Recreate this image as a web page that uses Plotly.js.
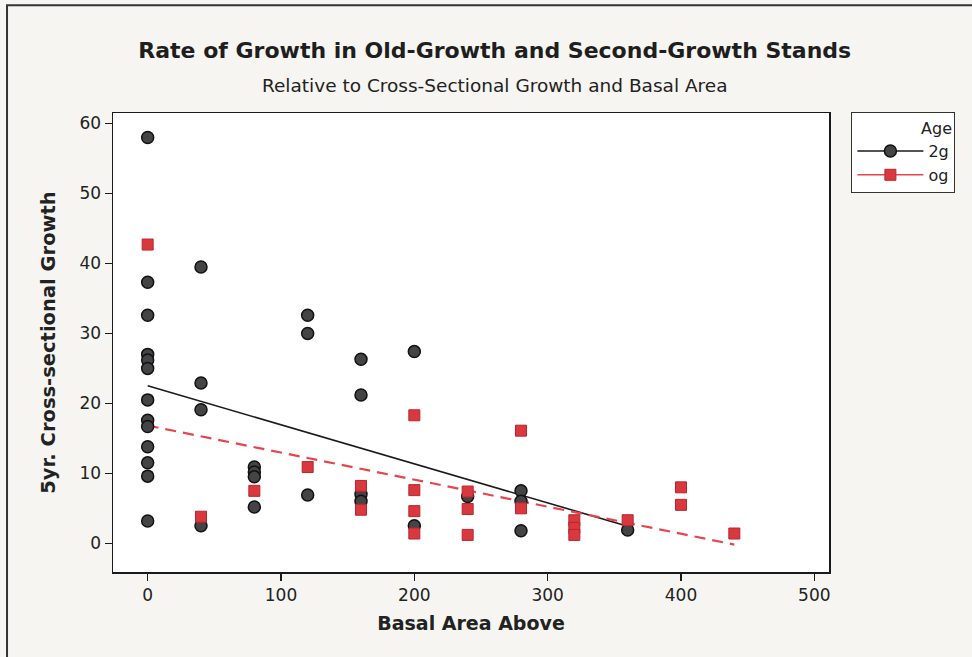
<!DOCTYPE html>
<html>
<head>
<meta charset="utf-8">
<script src="https://cdn.plot.ly/plotly-3.0.1.min.js"></script>
<style>
  html, body { margin: 0; padding: 0; background: #f6f5f1; }
  #chart { width: 972px; height: 657px; }
</style>
</head>
<body>
<div id="chart"></div>
<script>
// ---- Data ----
const basal2g = [0,0,0,0,0,0,0,0,0,0,0,0,0,
                 40,40,40,40,
                 80,80,80,80,
                 120,120,120,
                 160,160,160,160,
                 200,200,
                 240,
                 280,280,280,
                 360];
const growth2g = [58.0,37.3,32.6,27.0,26.2,25.0,20.5,17.6,16.7,13.8,11.5,9.6,3.2,
                  39.5,22.9,19.1,2.5,
                  10.9,10.2,9.5,5.2,
                  32.6,30.0,6.9,
                  26.3,21.2,7.0,6.0,
                  27.4,2.5,
                  6.7,
                  7.5,6.0,1.8,
                  1.9];
const basalOg = [0,40,80,120,160,160,200,200,200,200,240,240,240,280,280,320,320,320,360,400,400,440];
const growthOg = [42.7,3.8,7.5,10.9,8.2,4.8,18.3,7.6,4.6,1.4,7.4,4.9,1.2,16.1,5.0,3.3,2.2,1.2,3.3,8.0,5.5,1.4];

const groupNames = ['2g', 'og'];
const xTicks = [0, 100, 200, 300, 400, 500];
const yTicks = [0, 10, 20, 30, 40, 50, 60];

// least-squares fit line over the data's x range
function fitLine(xs, ys) {
  const n = xs.length;
  const mx = xs.reduce((a, b) => a + b, 0) / n;
  const my = ys.reduce((a, b) => a + b, 0) / n;
  let sxy = 0, sxx = 0;
  for (let i = 0; i < n; i++) { sxy += (xs[i] - mx) * (ys[i] - my); sxx += (xs[i] - mx) ** 2; }
  const b = sxy / sxx, a = my - b * mx;
  const x0 = Math.min(...xs), x1 = Math.max(...xs);
  return { x: [x0, x1], y: [a + b * x0, a + b * x1] };
}
const fit2g = fitLine(basal2g, growth2g);
const fitOg = fitLine(basalOg, growthOg);

const black = '#1a1a1a';
const circleFill = '#444446';
const red = '#d9383f';
const redLine = '#e6454d';

const traces = [
  { type: 'scatter', mode: 'lines', x: fit2g.x, y: fit2g.y, showlegend: false, hoverinfo: 'skip',
    line: { color: black, width: 1.6 } },
  { type: 'scatter', mode: 'lines', x: fitOg.x, y: fitOg.y, showlegend: false, hoverinfo: 'skip',
    line: { color: redLine, width: 2.2, dash: '11px,7px' } },
  { type: 'scatter', mode: 'markers', x: basal2g, y: growth2g, name: groupNames[0], showlegend: false,
    marker: { symbol: 'circle', size: 12, color: circleFill, line: { color: '#111', width: 1.5 } } },
  { type: 'scatter', mode: 'markers', x: basalOg, y: growthOg, name: groupNames[1], showlegend: false,
    marker: { symbol: 'square', size: 11, color: red, line: { color: '#b8262c', width: 1 } } },
  // legend entries (line + marker)
  { type: 'scatter', mode: 'lines+markers', x: [null], y: [null], name: groupNames[0],
    line: { color: black, width: 1.6 },
    marker: { symbol: 'circle', size: 12, color: circleFill, line: { color: '#111', width: 1.5 } } },
  { type: 'scatter', mode: 'lines+markers', x: [null], y: [null], name: groupNames[1],
    line: { color: redLine, width: 1.6 },
    marker: { symbol: 'square', size: 11, color: red, line: { color: '#b8262c', width: 1 } } }
];

const font = 'DejaVu Sans, Verdana, sans-serif';

const layout = {
  width: 972, height: 657,
  paper_bgcolor: '#f6f5f1',
  plot_bgcolor: '#ffffff',
  margin: { l: 113, r: 143, t: 113, b: 85, pad: 0 },
  font: { family: font, color: '#222', size: 17 },
  title: {
    text: 'Rate of Growth in Old-Growth and Second-Growth Stands',
    font: { family: font, size: 22, weight: 'bold', color: '#1e1e1e' },
    xref: 'container', x: 0.509, xanchor: 'center',
    yref: 'container', y: 0.912, yanchor: 'bottom',
    subtitle: {
      text: 'Relative to Cross-Sectional Growth and Basal Area',
      font: { family: font, size: 18.5, color: '#222' }
    }
  },
  xaxis: {
    range: [-26, 511],
    tickvals: xTicks, ticktext: xTicks.map(String),
    ticks: 'outside', ticklen: 7, tickwidth: 1.5, tickcolor: black,
    showline: true, mirror: true, linecolor: black, linewidth: 1.5,
    showgrid: false, zeroline: false,
    tickfont: { family: font, size: 17, color: '#222' },
    title: { text: 'Basal Area Above', standoff: 13,
             font: { family: font, size: 19, weight: 'bold', color: '#222' } }
  },
  yaxis: {
    range: [-4.1, 61.5],
    tickvals: yTicks, ticktext: yTicks.map(String),
    ticks: 'outside', ticklen: 7, tickwidth: 1.5, tickcolor: black,
    showline: true, mirror: true, linecolor: black, linewidth: 1.5,
    showgrid: false, zeroline: false,
    tickfont: { family: font, size: 17, color: '#222' },
    title: { text: '5yr. Cross-sectional Growth', standoff: 18,
             font: { family: font, size: 19.5, weight: 'bold', color: '#222' } }
  },
  legend: {
    x: 1.031, xanchor: 'left', y: 1.002, yanchor: 'top',
    bgcolor: '#ffffff', bordercolor: '#333', borderwidth: 1.2,
    font: { family: font, size: 16, color: '#222' },
    title: { text: 'Age', side: 'top right', font: { family: font, size: 16, color: '#222' } },
    itemwidth: 66, tracegroupgap: 0
  },
  shapes: [
    { type: 'rect', xref: 'paper', yref: 'paper',
      x0: -0.148, x1: 1.5, y0: -0.5, y1: 1.235,
      line: { color: '#333', width: 2 }, fillcolor: 'rgba(0,0,0,0)', layer: 'below' }
  ],
  showlegend: true
};

Plotly.newPlot('chart', traces, layout, { displayModeBar: false, staticPlot: true });
</script>
</body>
</html>
